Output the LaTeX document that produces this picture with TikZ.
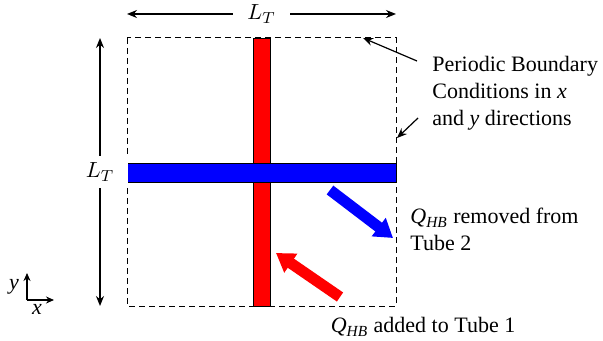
\documentclass[tikz,border=0pt]{standalone}
\usepackage{fontspec}
\setmainfont{Liberation Serif}
\usepackage{tikz}
\usetikzlibrary{arrows.meta, positioning, calc}

\newcommand{\qhb}{\textit{Q}\textsubscript{\textit{HB}}}

\begin{document}
\begin{tikzpicture}[
    x=0.5pt, y=-0.5pt,
    every node/.style={font=\fontsize{11}{13.5}\selectfont},
    dim/.style={{Stealth[length=5pt,width=4pt]}-{Stealth[length=5pt,width=4pt]}, line width=0.7pt},
    dimlabel/.style={fill=white, inner xsep=7pt, inner ysep=3.5pt},
    cell/.style={dash pattern=on 3pt off 2pt, line width=0.5pt},
    tube/.style={draw=black, line width=0.4pt},
    flux/.style={-{Triangle[length=9pt,width=11pt]}, line width=5.5pt},
    note/.style={-{Stealth[length=5pt,width=4pt]}, line width=0.6pt},
    axis/.style={-{Stealth[length=4pt,width=3.5pt]}, line width=0.6pt},
    txt/.style={align=left, inner sep=0pt, anchor=north west}
]

\useasboundingbox (0,0) rectangle (603,341);

% Periodic cell
\draw[cell] (127,38) rectangle (396,306);

% Tubes
\filldraw[tube, fill=red] (253,38) rectangle (270,306);
\filldraw[tube, fill=blue] (127,163) rectangle (396,182);

% Cell size
\coordinate (dimL) at (127,14);
\coordinate (dimR) at (396,14);
\coordinate (dimT) at (100,38);
\coordinate (dimB) at (100,306);
\draw[dim] (dimL) -- node[dimlabel] (lxlab) {$L_T$} (dimR);
\draw[dim] (dimT) -- node[dimlabel] (lylab) {$L_T$} (dimB);

% Boundary note
\node[txt] (pbc) at (432,56) {Periodic Boundary\\Conditions in \textit{x}\\and \textit{y} directions};
\coordinate (pbcA) at (363,38);
\coordinate (pbcB) at (397,138);
\draw[note] ([shift={(-15,5)}]pbc.north west) -- (pbcA);
\draw[note] ([shift={(-14,62)}]pbc.north west) -- (pbcB);

% Heat flux
\coordinate (outS) at (330,190);
\coordinate (outE) at (393,238);
\coordinate (inS) at (340,297);
\coordinate (inE) at (276,253);
\draw[flux, blue] (outS) -- (outE);
\draw[flux, red] (inS) -- (inE);
\node[txt] (outlab) at (410,208) {\qhb{} removed from\\Tube 2};
\node (inlab) at (423,327) {\qhb{} added to Tube 1};

% Axes
\coordinate (ax0) at (27,300);
\coordinate (axy) at (27,273);
\coordinate (axx) at (54,300);
\draw[axis] (ax0) -- (axy);
\draw[axis] (ax0) -- (axx);
\node (ylab) at (14,287) {\textit{y}};
\node (xlab) at (37,309) {\textit{x}};

\end{tikzpicture}
\end{document}
